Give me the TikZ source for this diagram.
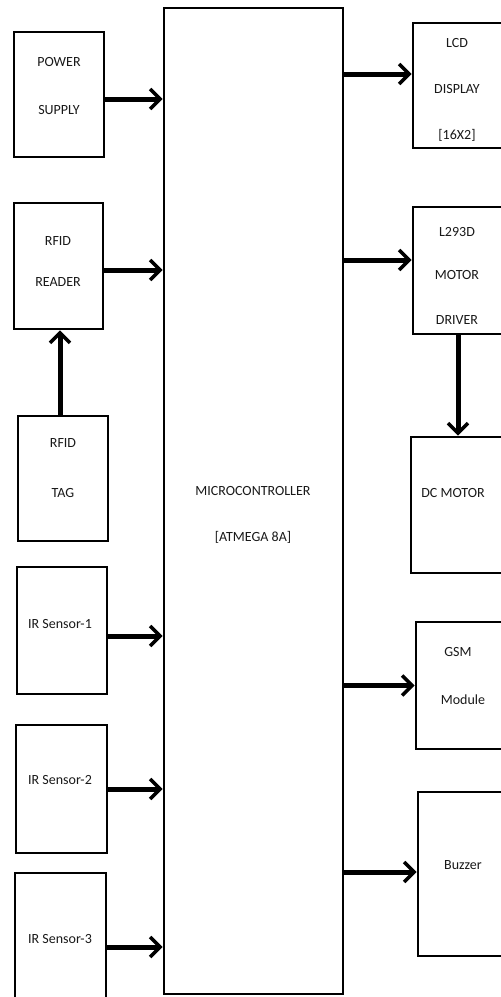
\documentclass[tikz,border=0pt]{standalone}
\usepackage{fontspec}
\setmainfont{Carlito}
\usetikzlibrary{arrows.meta}
\begin{document}
\begin{tikzpicture}[x=1pt,y=-1pt,
  blk/.style={draw=black,line width=2.8pt,inner sep=0pt},
  lbl/.style={font=\fontsize{14}{16}\selectfont, inner sep=0pt, text=black!90},
  arr/.style={line width=5pt,-{Straight Barb[length=10pt,width=20pt,line width=3.5pt]}}]
\useasboundingbox[fill=white] (0,0) rectangle (501,997);
% left blocks
\node[blk,minimum width=90pt,minimum height=125pt] (power) at (59,94.5) {};
\node[blk,minimum width=89pt,minimum height=126pt] (reader) at (58.5,266) {};
\node[blk,minimum width=90pt,minimum height=125pt] (tag) at (63,478.5) {};
\node[blk,minimum width=90pt,minimum height=127pt] (ir1) at (62,630.5) {};
\node[blk,minimum width=91pt,minimum height=128pt] (ir2) at (61.5,789) {};
\node[blk,minimum width=91pt,minimum height=130pt] (ir3) at (60.5,938) {};
% microcontroller
\node[blk,minimum width=179pt,minimum height=986pt] (mcu) at (253.5,501) {};
% right blocks
\node[blk,minimum width=90pt,minimum height=125pt] (lcd) at (458,85.5) {};
\node[blk,minimum width=90pt,minimum height=127pt] (drv) at (458,270.5) {};
\node[blk,minimum width=92pt,minimum height=136pt] (dc) at (457,505) {};
\node[blk,minimum width=87pt,minimum height=127pt] (gsm) at (459.5,685.5) {};
\node[blk,minimum width=85pt,minimum height=164pt] (buz) at (460.5,874) {};
% labels
\node[lbl] (t-power1) at (59,62) {POWER};
\node[lbl] (t-power2) at (59,110) {SUPPLY};
\node[lbl] (t-reader1) at (58,241) {RFID};
\node[lbl] (t-reader2) at (58,282) {READER};
\node[lbl] (t-tag1) at (63,443) {RFID};
\node[lbl] (t-tag2) at (63,493) {TAG};
\node[lbl] (t-ir1) at (60,624) {IR Sensor-1};
\node[lbl] (t-ir2) at (60,780) {IR Sensor-2};
\node[lbl] (t-ir3) at (60,939) {IR Sensor-3};
\node[lbl] (t-mcu1) at (253,491) {MICROCONTROLLER};
\node[lbl] (t-mcu2) at (253,537) {[ATMEGA 8A]};
\node[lbl] (t-lcd1) at (457,43) {LCD};
\node[lbl] (t-lcd2) at (457,89) {DISPLAY};
\node[lbl] (t-lcd3) at (457,135) {[16X2]};
\node[lbl] (t-drv1) at (457,232) {L293D};
\node[lbl] (t-drv2) at (457,275) {MOTOR};
\node[lbl] (t-drv3) at (457,320) {DRIVER};
\node[lbl] (t-dc) at (453,493) {DC MOTOR};
\node[lbl] (t-gsm1) at (458,652) {GSM};
\node[lbl] (t-gsm2) at (463,700) {Module};
\node[lbl] (t-buz) at (463,865) {Buzzer};
% arrows into the microcontroller
\draw[arr] ([yshift=-4.5pt]power.east) -- ([yshift=-4.5pt]power.east -| mcu.west);
\draw[arr] ([yshift=-4pt]reader.east) -- ([yshift=-4pt]reader.east -| mcu.west);
\draw[arr] ([yshift=-5.5pt]ir1.east) -- ([yshift=-5.5pt]ir1.east -| mcu.west);
\draw[arr] (ir2.east) -- (ir2.east -| mcu.west);
\draw[arr] ([yshift=-9pt]ir3.east) -- ([yshift=-9pt]ir3.east -| mcu.west);
\draw[arr] ([xshift=-3pt]tag.north) -- ([xshift=-3pt]tag.north |- reader.south);
% arrows out of the microcontroller
\draw[arr] ([yshift=11.5pt]lcd.west -| mcu.east) -- ([yshift=11.5pt]lcd.west);
\draw[arr] ([yshift=10.5pt]drv.west -| mcu.east) -- ([yshift=10.5pt]drv.west);
\draw[arr] (gsm.west -| mcu.east) -- (gsm.west);
\draw[arr] ([yshift=2pt]buz.west -| mcu.east) -- ([yshift=2pt]buz.west);
\draw[arr] (drv.south) -- (drv.south |- dc.north);
\end{tikzpicture}
\end{document}
